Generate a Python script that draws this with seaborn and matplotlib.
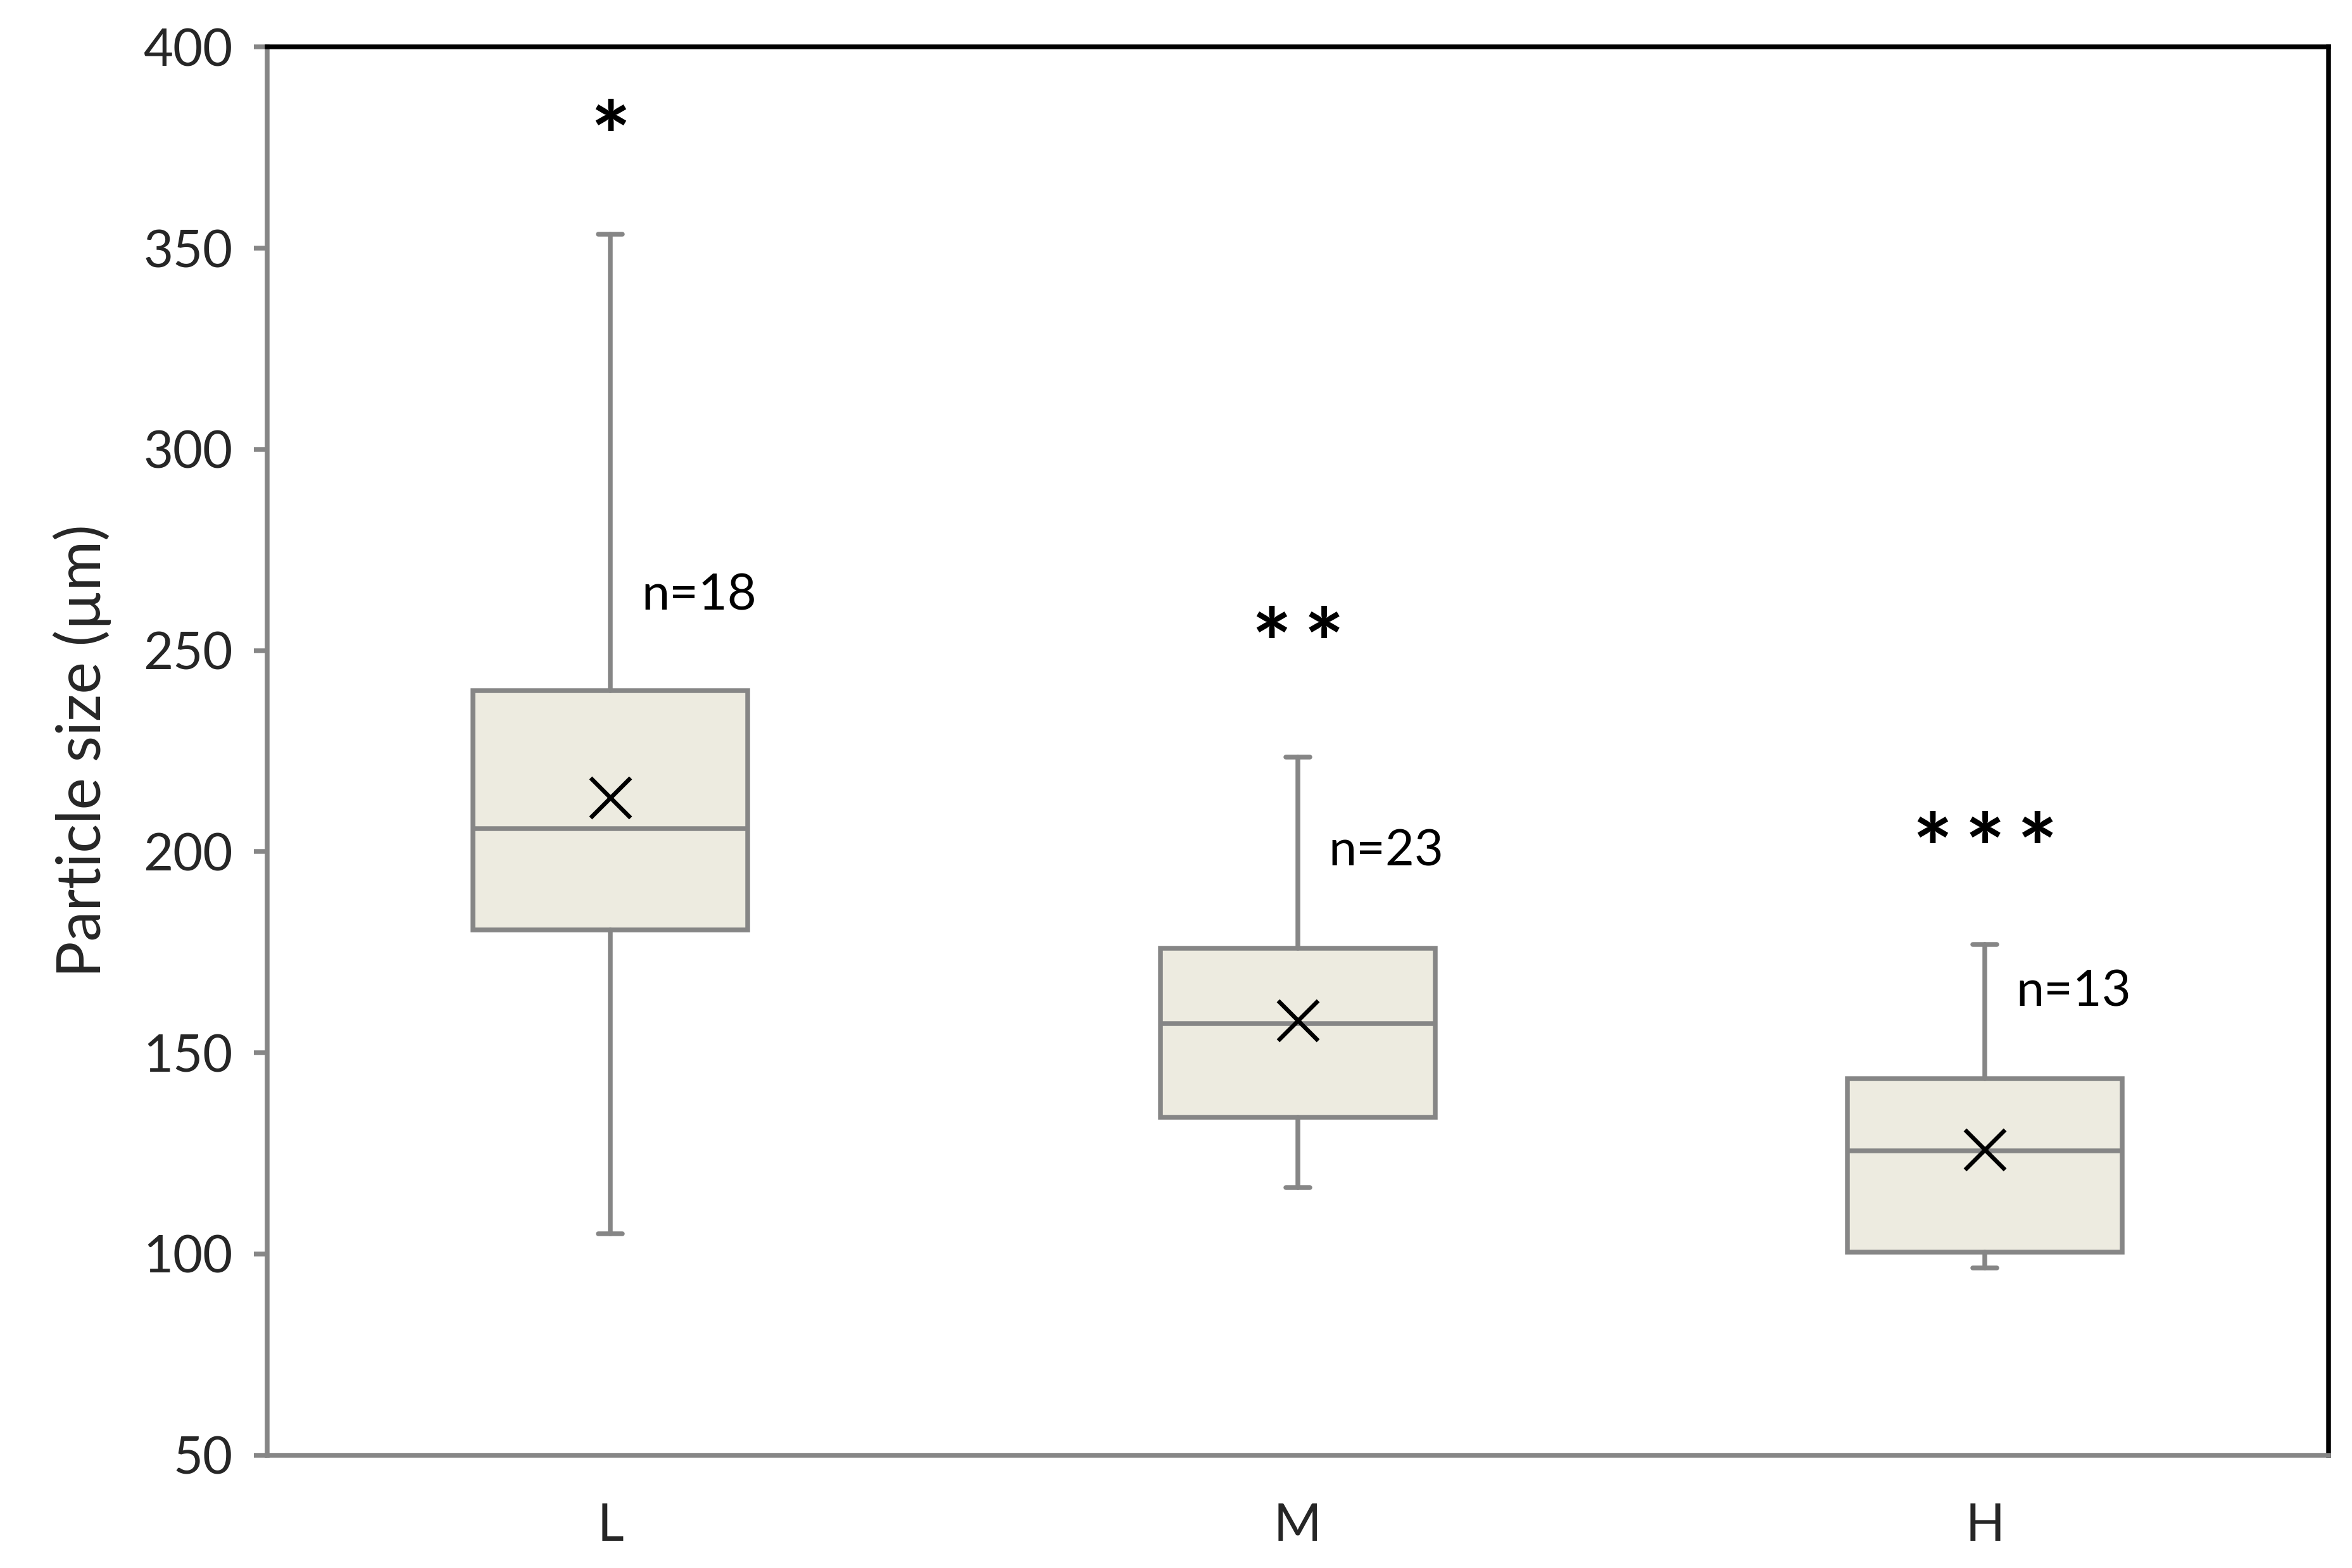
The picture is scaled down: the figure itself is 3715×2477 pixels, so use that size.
import numpy as np
import matplotlib
matplotlib.use("Agg")
import matplotlib.pyplot as plt
import seaborn as sns

# Box statistics
groups = ["L", "M", "H"]
whisker_low = [105, 116.5, 96.5]
q1 = [180.5, 134, 100.5]
median = [205.8, 157.3, 125.7]
q3 = [240, 176, 143.5]
whisker_high = [353.5, 223.5, 177]
means = [213.5, 158, 126]

# Annotations above each box
stars = ["*", "*\u2009*", "*\u2009*\u2009*"]
star_y = [376, 250, 199]
n_labels = ["n=18", "n=23", "n=13"]
n_y = [263.5, 200, 165]

sns.set_theme(style="white")
plt.rcParams['font.family'] = ['Lato', 'DejaVu Sans']

grey = "#868686"
fill = "#edebe0"

fig = plt.figure(figsize=(3715 / 300, 2477 / 300), dpi=300)
ax = fig.add_axes([0.1135, 0.072, 0.8765, 0.898])

stats = []
for i, g in enumerate(groups):
    stats.append({
        "label": g, "whislo": whisker_low[i], "q1": q1[i], "med": median[i],
        "q3": q3[i], "whishi": whisker_high[i], "fliers": [],
    })

pos = np.arange(len(groups))
ax.bxp(stats, positions=pos, widths=0.4, capwidths=0.035, patch_artist=True,
       showfliers=False,
       boxprops=dict(facecolor=fill, edgecolor=grey, linewidth=1.8),
       medianprops=dict(color=grey, linewidth=1.8),
       whiskerprops=dict(color=grey, linewidth=1.8),
       capprops=dict(color=grey, linewidth=1.8))

# mean markers
sns.scatterplot(x=pos, y=means, marker="x", s=230, color="black",
                linewidth=1.6, ax=ax, zorder=5, legend=False)

for i in range(len(groups)):
    ax.text(pos[i], star_y[i], stars[i], ha="center", va="center",
            fontsize=36, fontweight="bold", color="black")
    ax.text(pos[i] + 0.045, n_y[i], n_labels[i], ha="left", va="center",
            fontsize=19, color="black")

ax.set_xlim(-0.5, 2.5)
ax.set_ylim(50, 400)
ax.set_yticks(np.arange(50, 401, 50))
ax.set_xticks(pos)
ax.set_xticklabels(groups)
ax.set_ylabel("Particle size (µm)", fontsize=23, labelpad=12)

ax.tick_params(axis="y", which="major", left=True, length=5, width=1.8,
               color=grey, labelsize=19.5, pad=8)
ax.tick_params(axis="x", length=0, labelsize=19.5, pad=18)

for side in ["left", "bottom"]:
    ax.spines[side].set_color(grey)
    ax.spines[side].set_linewidth(1.8)
for side in ["top", "right"]:
    ax.spines[side].set_color("black")
    ax.spines[side].set_linewidth(1.8)
    ax.spines[side].set_visible(True)

fig.savefig("out.png", dpi=300, facecolor="white")
